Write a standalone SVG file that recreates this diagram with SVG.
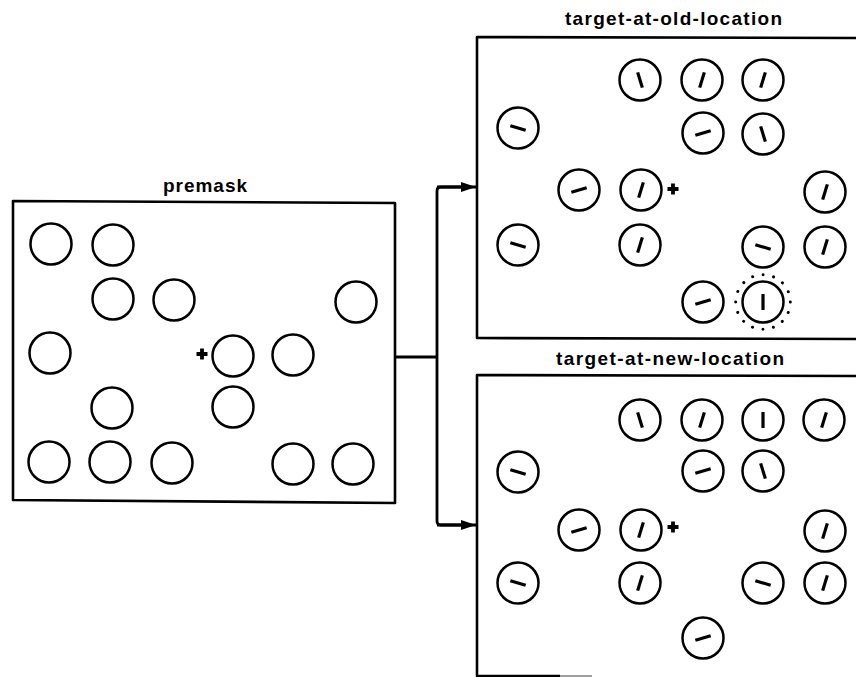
<svg xmlns="http://www.w3.org/2000/svg" xmlns:xlink="http://www.w3.org/1999/xlink" width="856" height="677" viewBox="0 0 856 677">
<style>
.box{fill:none;stroke:#000;stroke-width:2.6;stroke-linejoin:round}
.ring{fill:#fff;stroke:#000;stroke-width:2.5}
.bar{stroke:#000;stroke-width:3.2;stroke-linecap:butt}
.plus{stroke:#000;stroke-width:3.8;fill:none}
.lbl{font-family:"Liberation Sans",Arial,Helvetica,sans-serif;font-weight:bold;font-size:19px;fill:#000}
.conn{fill:none;stroke:#000;stroke-width:2.8;stroke-linejoin:round}
.dots{fill:none;stroke:#000;stroke-width:3;stroke-linecap:round;stroke-dasharray:0.001 1}
</style>
<defs>
<marker id="arr" markerWidth="16" markerHeight="12" refX="15" refY="6" orient="auto" markerUnits="userSpaceOnUse">
<path d="M0,1 L15,6 L0,11 Z" fill="#000"/>
</marker>
<circle id="c" class="ring" r="20.5"/>
<line id="ls" class="bar" x1="0" y1="-8" x2="0" y2="8" transform="rotate(17)"/>
<line id="lb" class="bar" x1="0" y1="-8" x2="0" y2="8" transform="rotate(-17)"/>
<line id="ld" class="bar" x1="0" y1="-8" x2="0" y2="8" transform="rotate(107)"/>
<line id="lu" class="bar" x1="0" y1="-8" x2="0" y2="8" transform="rotate(73)"/>
<line id="lv" class="bar" x1="0" y1="-8" x2="0" y2="8"/>
<path id="pl" class="plus" d="M-5.5,0 H5.5 M0,-5.5 V5.5"/>
</defs>
<rect width="856" height="677" fill="#fff"/>

<g id="premask">
<text class="lbl" x="163" y="192" textLength="84" lengthAdjust="spacing">premask</text>
<path class="box" d="M13,201 L395,203 L395,503 L13,500 Z"/>
<g id="pm-stims">
<use xlink:href="#c" x="51" y="244"/><use xlink:href="#c" x="113" y="245"/>
<use xlink:href="#c" x="113" y="299"/><use xlink:href="#c" x="174" y="300"/><use xlink:href="#c" x="356" y="302"/>
<use xlink:href="#c" x="50" y="353"/><use xlink:href="#c" x="233" y="356"/><use xlink:href="#c" x="293" y="355"/>
<use xlink:href="#c" x="112" y="408"/><use xlink:href="#c" x="233" y="407"/>
<use xlink:href="#c" x="49" y="462"/><use xlink:href="#c" x="110" y="462"/><use xlink:href="#c" x="172" y="463"/><use xlink:href="#c" x="293" y="464"/><use xlink:href="#c" x="353" y="464"/>
<use xlink:href="#pl" x="202" y="354"/>
</g>
</g>

<g id="target-old">
<text class="lbl" x="565" y="25" textLength="217" lengthAdjust="spacing">target-at-old-location</text>
<path class="box" d="M860,38 L477,37 L477,338 L860,339"/>
<g transform="translate(640,80)"><use xlink:href="#c"/><use xlink:href="#lb"/></g>
<g transform="translate(702,80)"><use xlink:href="#c"/><use xlink:href="#ls"/></g>
<g transform="translate(763,80)"><use xlink:href="#c"/><use xlink:href="#ls"/></g>
<g transform="translate(518,128)"><use xlink:href="#c"/><use xlink:href="#ld"/></g>
<g transform="translate(703,133)"><use xlink:href="#c"/><use xlink:href="#lu"/></g>
<g transform="translate(763,134)"><use xlink:href="#c"/><use xlink:href="#lb"/></g>
<g transform="translate(579,190)"><use xlink:href="#c"/><use xlink:href="#lu"/></g>
<g transform="translate(641,190)"><use xlink:href="#c"/><use xlink:href="#ls"/></g>
<use xlink:href="#pl" x="673" y="189"/>
<g transform="translate(825,192)"><use xlink:href="#c"/><use xlink:href="#ls"/></g>
<g transform="translate(518,245)"><use xlink:href="#c"/><use xlink:href="#ld"/></g>
<g transform="translate(640,245)"><use xlink:href="#c"/><use xlink:href="#ls"/></g>
<g transform="translate(763,247)"><use xlink:href="#c"/><use xlink:href="#ld"/></g>
<g transform="translate(825,247)"><use xlink:href="#c"/><use xlink:href="#ls"/></g>
<g transform="translate(703,302)"><use xlink:href="#c"/><use xlink:href="#lu"/></g>
<g id="target-item" transform="translate(763,302)"><circle class="dots" r="27.3" pathLength="16"/><use xlink:href="#c"/><use xlink:href="#lv"/></g>
</g>

<g id="target-new">
<text class="lbl" x="556" y="365" textLength="228" lengthAdjust="spacing">target-at-new-location</text>
<path class="box" d="M860,376 L477,375 L477,676 L560,676"/>
<path d="M560,676 L592,676" stroke="#888" stroke-width="1.6" fill="none"/>
<g transform="translate(640,420)"><use xlink:href="#c"/><use xlink:href="#lb"/></g>
<g transform="translate(702,420)"><use xlink:href="#c"/><use xlink:href="#ls"/></g>
<g transform="translate(763,420)"><use xlink:href="#c"/><use xlink:href="#lv"/></g>
<g transform="translate(824,420)"><use xlink:href="#c"/><use xlink:href="#ls"/></g>
<g transform="translate(518,472)"><use xlink:href="#c"/><use xlink:href="#ld"/></g>
<g transform="translate(703,471)"><use xlink:href="#c"/><use xlink:href="#lu"/></g>
<g transform="translate(763,471)"><use xlink:href="#c"/><use xlink:href="#lb"/></g>
<g transform="translate(579,530)"><use xlink:href="#c"/><use xlink:href="#lu"/></g>
<g transform="translate(641,530)"><use xlink:href="#c"/><use xlink:href="#ls"/></g>
<use xlink:href="#pl" x="673" y="527"/>
<g transform="translate(825,531)"><use xlink:href="#c"/><use xlink:href="#ls"/></g>
<g transform="translate(518,583)"><use xlink:href="#c"/><use xlink:href="#ld"/></g>
<g transform="translate(640,583)"><use xlink:href="#c"/><use xlink:href="#ls"/></g>
<g transform="translate(763,583)"><use xlink:href="#c"/><use xlink:href="#ld"/></g>
<g transform="translate(825,583)"><use xlink:href="#c"/><use xlink:href="#ls"/></g>
<g transform="translate(703,638)"><use xlink:href="#c"/><use xlink:href="#lu"/></g>
</g>

<g id="connectors">
<path class="conn" d="M395,357 L437,357"/>
<path class="conn" d="M462,187 L441,187 Q437,187 437,191 L437,521 Q437,525 441,525 L462,525"/>
<path class="conn" d="M437,187 L476,187" marker-end="url(#arr)"/>
<path class="conn" d="M437,525 L476,525" marker-end="url(#arr)"/>
</g>
</svg>
